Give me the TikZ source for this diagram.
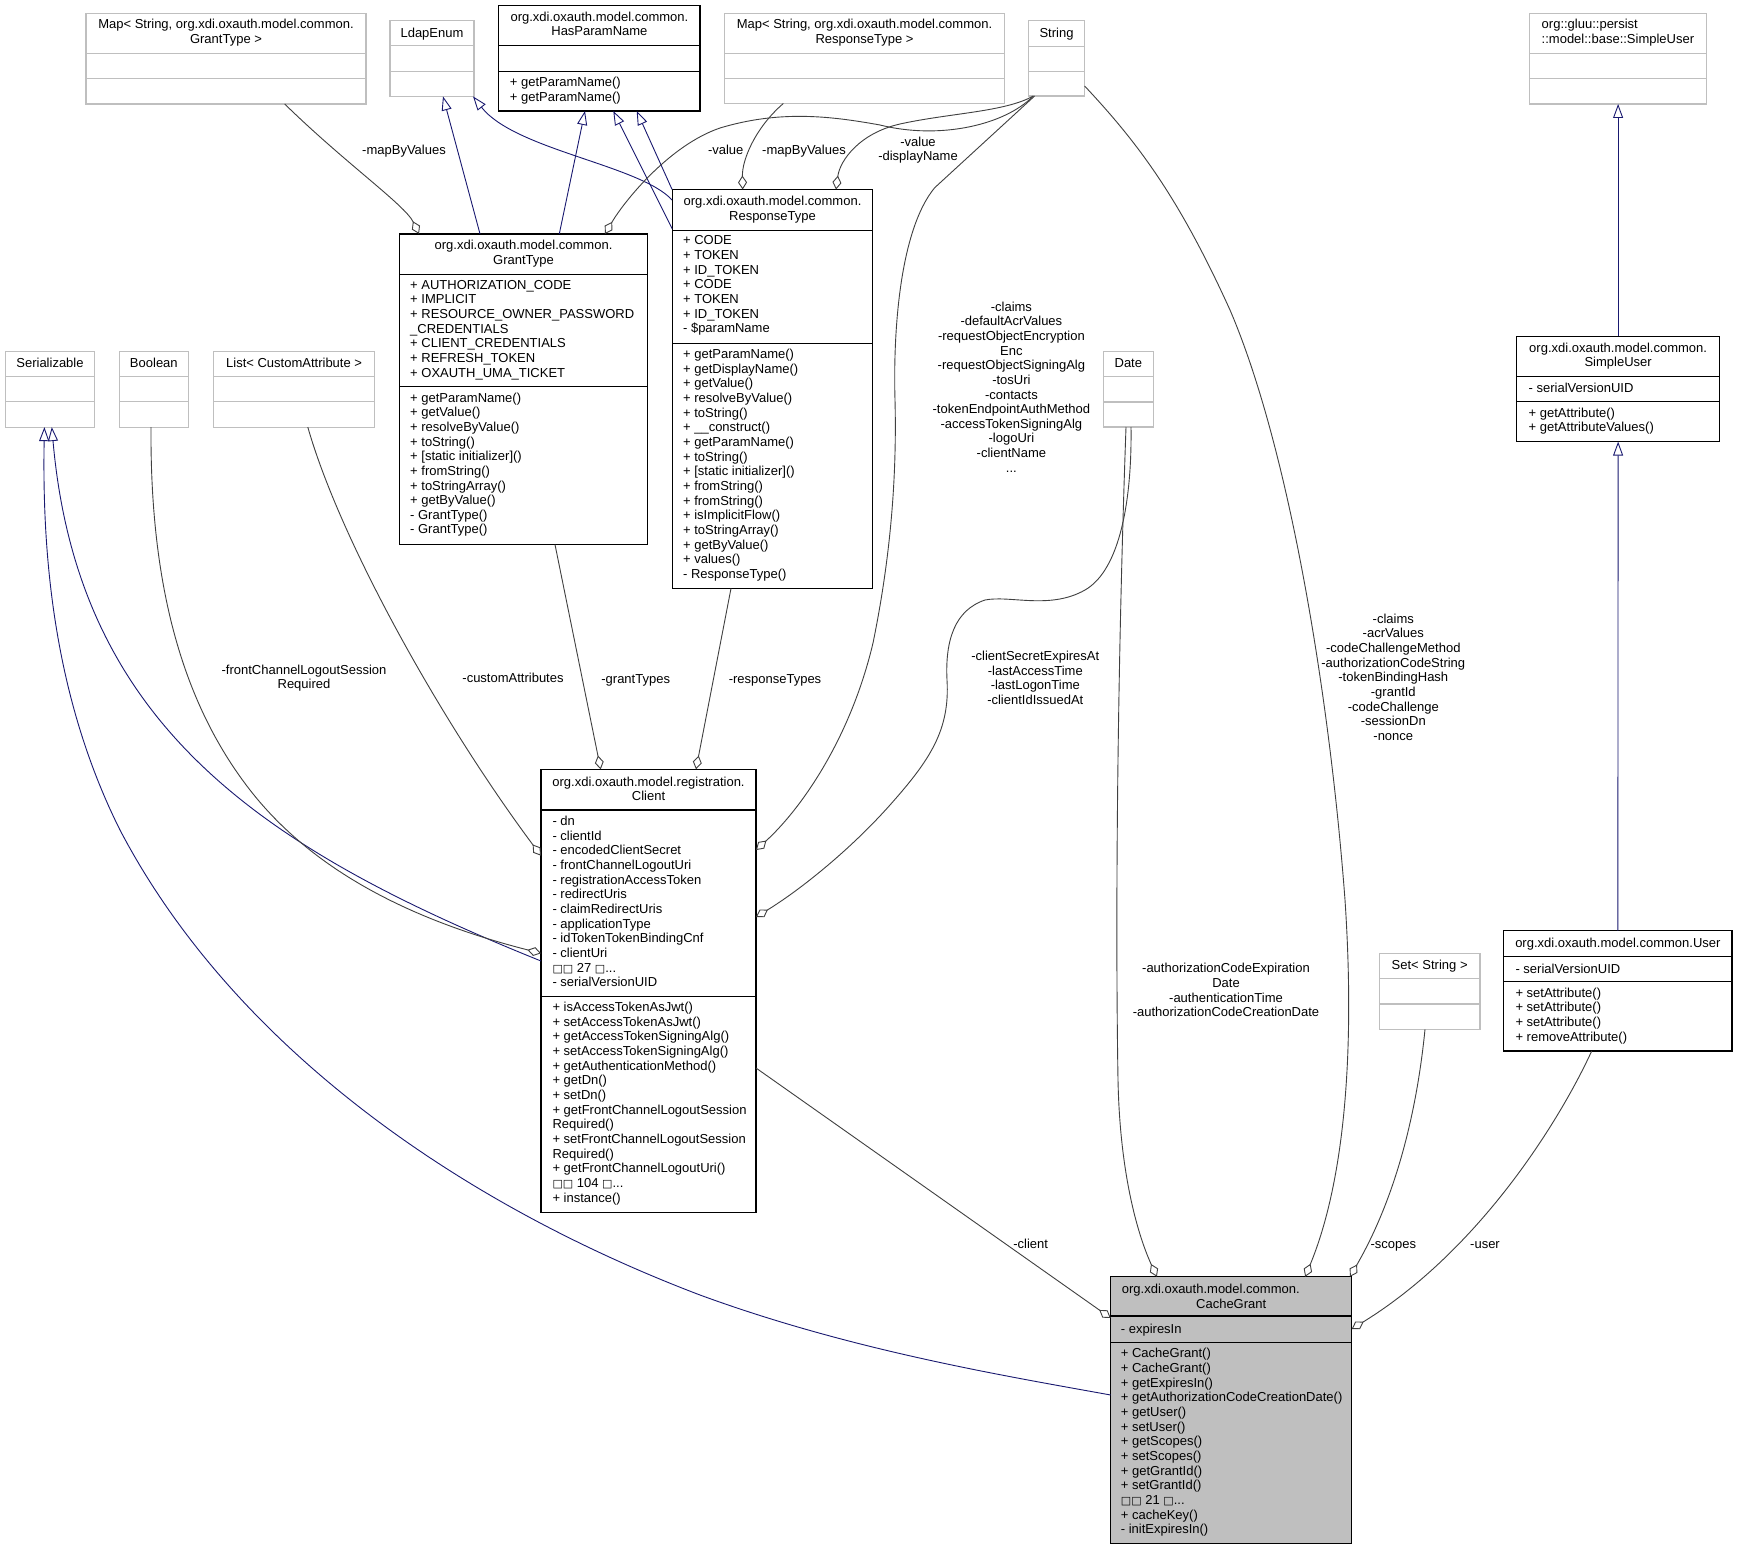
\documentclass[tikz,border=0pt]{standalone}
\usepackage{fontspec}
\setmainfont{Liberation Sans}
\newfontfamily\dejavu{DejaVu Sans}
\usetikzlibrary{arrows.meta,calc}
\definecolor{boxgray}{HTML}{BFBFBF}
\definecolor{usegray}{HTML}{404040}
\definecolor{inhblue}{HTML}{191970}
\definecolor{cgfill}{HTML}{BFBFBF}
\newcommand\umlbox[8]{%
  \pgfmathsetmacro\bw{#5-#3}\pgfmathsetmacro\bh{#6-#4}%
  \node[#1, minimum width=\bw pt, minimum height=\bh pt, anchor=north west, inner sep=0pt, outer sep=0pt] (#2) at (#3,#4) {};
  \draw[#1, fill=none] (#3,#7) -- (#5,#7) (#3,#8) -- (#5,#8);}
\newcommand\tofu{{\dejavu\fontsize{11}{14.65}\selectfont □}}
\begin{document}
\begin{tikzpicture}[x=1pt,y=-1pt,
  gbox/.style={draw=boxgray, line width=1.2pt, fill=white},
  bbox/.style={draw=black, line width=1.2pt, fill=white},
  cbox/.style={draw=black, line width=1.2pt, fill=cgfill},
  txt/.style={font=\fontsize{13}{14.65}\selectfont, inner sep=0pt, anchor=north west, align=left, execute at begin node=\strut},
  ctxt/.style={txt, anchor=north, align=center},
  use/.style={draw=usegray, line width=0.9pt, -{Diamond[open, length=14pt, width=9pt]}},
  inh/.style={draw=inhblue, line width=0.9pt, -{Triangle[open, length=14pt, width=10pt]}}]
\fill[white] (0,0) rectangle (1737,1549);
\useasboundingbox (0,0) rectangle (1737,1549);

% ---------- boxes ----------
\umlbox{gbox}{mapGT}{86}{13.5}{366}{104}{53.6}{78.2}
\umlbox{gbox}{ldap}{390}{20.4}{474}{96.4}{45.7}{71.4}
\umlbox{bbox}{hpn}{498.7}{5.4}{700}{111}{45.7}{71.4}
\umlbox{gbox}{mapRT}{724.5}{13.6}{1004.5}{103.5}{53.4}{78.3}
\umlbox{gbox}{str}{1028.3}{20.6}{1084.6}{96}{46.3}{71.6}
\umlbox{gbox}{baseSU}{1529.8}{13.2}{1706.4}{104}{53.6}{78.2}
\umlbox{bbox}{gt}{399.5}{233.9}{647.5}{544.6}{274.3}{386.8}
\umlbox{bbox}{rt}{672.1}{189.5}{872.8}{588.4}{230.1}{343.2}
\umlbox{gbox}{ser}{5.5}{351.8}{94.6}{427.1}{376.4}{401.8}
\umlbox{gbox}{bool}{119.4}{351.8}{188.3}{427.1}{376.4}{401.8}
\umlbox{gbox}{lca}{213.5}{351.8}{374.7}{427.1}{376.4}{401.8}
\umlbox{gbox}{date}{1103.5}{351.5}{1153.2}{427}{376.6}{402}
\umlbox{bbox}{su}{1516.8}{336.4}{1719.4}{441.6}{376.4}{401.8}
\umlbox{bbox}{client}{541}{769.3}{756}{1212.7}{810}{996.7}
\umlbox{gbox}{set}{1379.3}{953.3}{1480}{1029.3}{978.3}{1004}
\umlbox{bbox}{user}{1503.7}{930.7}{1732}{1051}{956.7}{981.7}
\umlbox{cbox}{cg}{1110.7}{1276.7}{1351.7}{1543.3}{1316}{1342.3}

% ---------- box texts ----------
\node[ctxt] (mapGT-t) at (226,19.3) {Map< String, org.xdi.oxauth.model.common.\\GrantType >};
\node[ctxt] (ldap-t) at (432,27.2) {LdapEnum};
\node[ctxt] (hpn-t) at (599.4,11.4) {org.xdi.oxauth.model.common.\\HasParamName};
\node[txt] (hpn-o) at (509.7,77.2) {+ getParamName()\\+ getParamName()};
\node[ctxt] (mapRT-t) at (864.5,18.8) {Map< String, org.xdi.oxauth.model.common.\\ResponseType >};
\node[ctxt] (str-t) at (1056.5,27.1) {String};
\node[txt] (baseSU-t) at (1541.5,19.3) {org::gluu::persist\\::model::base::SimpleUser};

\node[ctxt] (gt-t) at (523.5,240) {org.xdi.oxauth.model.common.\\GrantType};
\node[txt] (gt-a) at (410,280) {+ AUTHORIZATION\_CODE\\+ IMPLICIT\\+ RESOURCE\_OWNER\_PASSWORD\\\_CREDENTIALS\\+ CLIENT\_CREDENTIALS\\+ REFRESH\_TOKEN\\+ OXAUTH\_UMA\_TICKET};
\node[txt] (gt-o) at (410,392.5) {+ getParamName()\\+ getValue()\\+ resolveByValue()\\+ toString()\\+ [static initializer]()\\+ fromString()\\+ toStringArray()\\+ getByValue()\\- GrantType()\\- GrantType()};

\node[ctxt] (rt-t) at (772.5,196) {org.xdi.oxauth.model.common.\\ResponseType};
\node[txt] (rt-a) at (682.9,235.5) {+ CODE\\+ TOKEN\\+ ID\_TOKEN\\+ CODE\\+ TOKEN\\+ ID\_TOKEN\\- \$paramName};
\node[txt] (rt-o) at (682.9,349) {+ getParamName()\\+ getDisplayName()\\+ getValue()\\+ resolveByValue()\\+ toString()\\+ \_\_construct()\\+ getParamName()\\+ toString()\\+ [static initializer]()\\+ fromString()\\+ fromString()\\+ isImplicitFlow()\\+ toStringArray()\\+ getByValue()\\+ values()\\- ResponseType()};

\node[ctxt] (ser-t) at (50,356.8) {Serializable};
\node[ctxt] (bool-t) at (153.85,356.8) {Boolean};
\node[ctxt] (lca-t) at (294.1,356.8) {List< CustomAttribute >};
\node[ctxt] (date-t) at (1128.35,356.9) {Date};

\node[ctxt] (su-t) at (1618.1,342.5) {org.xdi.oxauth.model.common.\\SimpleUser};
\node[txt] (su-a) at (1528.5,382.5) {- serialVersionUID};
\node[txt] (su-o) at (1528.5,407.5) {+ getAttribute()\\+ getAttributeValues()};

\node[ctxt] (client-t) at (648.5,776.6) {org.xdi.oxauth.model.registration.\\Client};
\node[txt] (client-a) at (552.3,816) {- dn\\- clientId\\- encodedClientSecret\\- frontChannelLogoutUri\\- registrationAccessToken\\- redirectUris\\- claimRedirectUris\\- applicationType\\- idTokenTokenBindingCnf\\- clientUri\\\tofu\tofu{} 27 \tofu...\\- serialVersionUID};
\node[txt] (client-o) at (552.3,1002) {+ isAccessTokenAsJwt()\\+ setAccessTokenAsJwt()\\+ getAccessTokenSigningAlg()\\+ setAccessTokenSigningAlg()\\+ getAuthenticationMethod()\\+ getDn()\\+ setDn()\\+ getFrontChannelLogoutSession\\Required()\\+ setFrontChannelLogoutSession\\Required()\\+ getFrontChannelLogoutUri()\\\tofu\tofu{} 104 \tofu...\\+ instance()};

\node[ctxt] (set-t) at (1429.65,958.6) {Set< String >};
\node[ctxt] (user-t) at (1617.85,937) {org.xdi.oxauth.model.common.User};
\node[txt] (user-a) at (1515.3,962.6) {- serialVersionUID};
\node[txt] (user-o) at (1515.3,987.6) {+ setAttribute()\\+ setAttribute()\\+ setAttribute()\\+ removeAttribute()};

\node[txt] (cg-t1) at (1121.7,1283.3) {org.xdi.oxauth.model.common.};
\node[ctxt] (cg-t2) at (1231.2,1297.6) {CacheGrant};
\node[txt] (cg-a) at (1120.7,1323.3) {- expiresIn};
\node[txt] (cg-o) at (1120.7,1348.3) {+ CacheGrant()\\+ CacheGrant()\\+ getExpiresIn()\\+ getAuthorizationCodeCreationDate()\\+ getUser()\\+ setUser()\\+ getScopes()\\+ setScopes()\\+ getGrantId()\\+ setGrantId()\\\tofu\tofu{} 21 \tofu...\\+ cacheKey()\\- initExpiresIn()};

% ---------- inheritance ----------
\draw[inh] ($(gt.north west)+(80.5,0)$) -- ($(ldap.south west)+(53,0)$);
\draw[inh] ($(rt.north west)+(0,10.5)$) .. controls (640,165) and (515,150) .. ($(ldap.south west)+(83,0)$);
\draw[inh] ($(gt.north west)+(159.8,0)$) -- ($(hpn.south west)+(86.3,0)$);
\draw[inh] ($(rt.north west)+(0,39.1)$) -- ($(hpn.south west)+(114.6,0)$);
\draw[inh] (rt.north west) -- ($(hpn.south west)+(138,0)$);
\draw[inh] (su.north) -- (baseSU.south);
\draw[inh] (user.north) -- (su.south);
\draw[inh] ($(cg.north west)+(0,118.3)$) .. controls (1000,1375) and (850,1350) .. (700,1295) .. controls (450,1200) and (230,1040) .. (120,830) .. controls (55,700) and (42,560) .. ($(ser.south west)+(38.9,0)$);
\draw[inh] ($(client.north west)+(0,191.7)$) .. controls (263,849) and (78,726) .. ($(ser.south west)+(46.3,0)$);

% ---------- usage ----------
\draw[use] ($(mapGT.south west)+(198.7,0)$) .. controls (345,163) and (405,205) .. ($(gt.north west)+(19.5,0)$);
\draw[use] ($(str.south west)+(5,0)$) .. controls (1005,125) and (940,140) .. (880,125) .. controls (830,116) and (780,110) .. (720,128) .. controls (670,145) and (625,200) .. ($(gt.north west)+(205.5,0)$);
\draw[use] ($(mapRT.south west)+(58.8,0)$) .. controls (755,128) and (742,160) .. ($(rt.north west)+(70.6,0)$);
\draw[use] ($(str.south west)+(5,0)$) .. controls (1005,112) and (950,113) .. (900,124) .. controls (860,133) and (840,160) .. ($(rt.north west)+(163.9,0)$);
\draw[use] ($(str.south west)+(6.3,0)$) -- (934.6,187.8) .. controls (900,230) and (893,330) .. (895,400) .. controls (897,480) and (890,560) .. (873,643) .. controls (850,740) and (800,810) .. ($(client.north east)+(0,80.7)$);
\draw[use] ($(date.south west)+(27.5,0)$) .. controls (1132,500) and (1120,570) .. (1085,590) .. controls (1050,610) and (1010,595) .. (985,600) .. controls (955,610) and (945,640) .. (947,680) .. controls (950,730) and (930,760) .. (890,805) .. controls (850,850) and (800,890) .. ($(client.north east)+(0,147.7)$);
\draw[use] ($(date.south west)+(22.5,0)$) .. controls (1118,650) and (1115,900) .. (1118,1080) .. controls (1120,1180) and (1140,1240) .. ($(cg.north west)+(46.2,0)$);
\draw[use] ($(str.north east)+(0,65.4)$) .. controls (1140,145) and (1180,200) .. (1230,310) .. controls (1290,450) and (1330,700) .. (1345,900) .. controls (1355,1050) and (1345,1180) .. ($(cg.north west)+(194.5,0)$);
\draw[use] ($(set.south west)+(45.7,0)$) .. controls (1418,1100) and (1400,1190) .. ($(cg.north west)+(239.3,0)$);
\draw[use] ($(user.south west)+(88,0)$) .. controls (1560,1120) and (1480,1250) .. ($(cg.north east)+(0,52.3)$);
\draw[use] ($(client.north east)+(0,298.7)$) -- ($(cg.north west)+(0,41.3)$);
\draw[use] ($(bool.south west)+(31.6,0)$) .. controls (150,580) and (180,700) .. (250,790) .. controls (320,880) and (430,925) .. ($(client.north west)+(0,184)$);
\draw[use] ($(lca.south west)+(94.3,0)$) .. controls (340,540) and (440,720) .. ($(client.north west)+(0,86.4)$);
\draw[use] ($(gt.south west)+(155.5,0)$) -- ($(client.north west)+(59.7,0)$);
\draw[use] ($(rt.south west)+(58.9,0)$) -- ($(client.north west)+(155,0)$);

% ---------- edge labels ----------
\node[ctxt] (l-mapgt) at (404,143.6) {-mapByValues};
\node[ctxt] (l-valgt) at (725.7,143.6) {-value};
\node[ctxt] (l-maprt) at (804,143.6) {-mapByValues};
\node[ctxt] (l-valrt) at (918,136.6) {-value\\-displayName};
\node[ctxt] (l-strcl) at (1011.4,301.5) {-claims\\-defaultAcrValues\\-requestObjectEncryption\\Enc\\-requestObjectSigningAlg\\-tosUri\\-contacts\\-tokenEndpointAuthMethod\\-accessTokenSigningAlg\\-logoUri\\-clientName\\...};
\node[ctxt] (l-datecl) at (1035.3,651) {-clientSecretExpiresAt\\-lastAccessTime\\-lastLogonTime\\-clientIdIssuedAt};
\node[ctxt] (l-bool) at (304,664.6) {-frontChannelLogoutSession\\Required};
\node[ctxt] (l-lca) at (513,672.5) {-customAttributes};
\node[ctxt] (l-gt) at (635.7,672.6) {-grantTypes};
\node[ctxt] (l-rt) at (775,672.6) {-responseTypes};
\node[ctxt] (l-strcg) at (1393.3,613.6) {-claims\\-acrValues\\-codeChallengeMethod\\-authorizationCodeString\\-tokenBindingHash\\-grantId\\-codeChallenge\\-sessionDn\\-nonce};
\node[ctxt] (l-datecg) at (1226,963.3) {-authorizationCodeExpiration\\Date\\-authenticationTime\\-authorizationCodeCreationDate};
\node[ctxt] (l-client) at (1030.7,1237.6) {-client};
\node[ctxt] (l-scopes) at (1393.3,1238.3) {-scopes};
\node[ctxt] (l-user) at (1485,1238.3) {-user};
\end{tikzpicture}
\end{document}
